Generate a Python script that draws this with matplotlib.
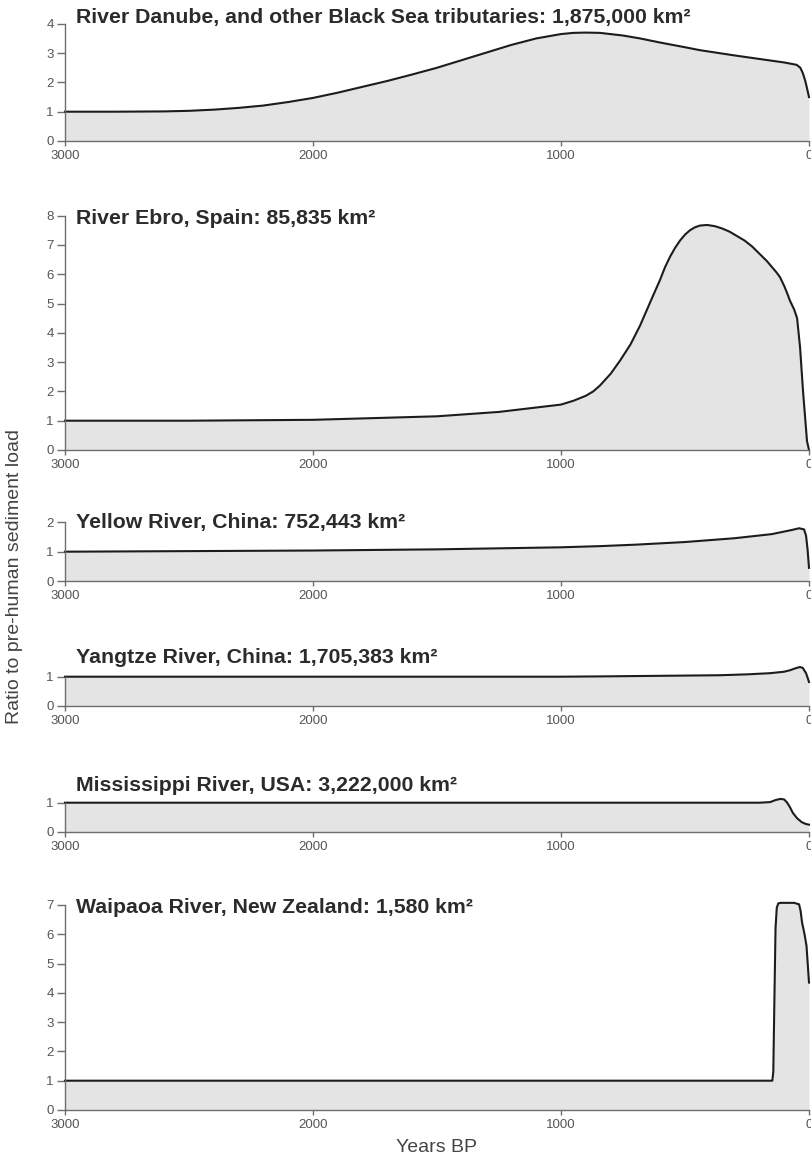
import numpy as np
import matplotlib.pyplot as plt

# sediment load relative to pre-human levels, read as (years BP, ratio)
danube_yr = [3000, 2800, 2600, 2500, 2400, 2300, 2200, 2100, 2000, 1900, 1800, 1700, 1600, 1500, 1400, 1300,
             1200, 1100, 1000, 950, 900, 843, 750, 681, 600, 500, 440, 300, 200, 100, 50, 35, 25, 15, 8, 0]
danube_val = [1.0, 1.0, 1.01, 1.03, 1.07, 1.13, 1.21, 1.33, 1.47, 1.65, 1.85, 2.05, 2.27, 2.5, 2.76, 3.02,
              3.28, 3.5, 3.65, 3.69, 3.7, 3.69, 3.6, 3.5, 3.36, 3.2, 3.1, 2.92, 2.8, 2.68, 2.6, 2.5, 2.32, 2.05, 1.8, 1.5]

ebro_yr = [3000, 2500, 2000, 1500, 1250, 1000, 950, 900, 870, 843, 800, 762, 720, 681, 640, 601, 580, 560, 540,
           520, 500, 480, 460, 440, 411, 380, 350, 320, 290, 260, 230, 200, 170, 150, 130, 117, 100, 88, 77,
           60, 48, 36, 24, 8, 0]
ebro_val = [1.0, 1.0, 1.03, 1.15, 1.3, 1.55, 1.68, 1.85, 2.0, 2.2, 2.6, 3.05, 3.6, 4.25, 5.05, 5.8, 6.25, 6.6, 6.9,
            7.15, 7.35, 7.5, 7.6, 7.66, 7.68, 7.64, 7.56, 7.45, 7.3, 7.15, 6.95, 6.7, 6.45, 6.25, 6.05, 5.9, 5.6,
            5.35, 5.1, 4.8, 4.5, 3.5, 2.0, 0.3, 0.0]

yellow_yr = [3000, 2000, 1500, 1000, 843, 700, 500, 300, 150, 70, 40, 20, 12, 6, 0]
yellow_val = [1.0, 1.04, 1.08, 1.15, 1.19, 1.24, 1.33, 1.46, 1.6, 1.74, 1.8, 1.76, 1.55, 1.1, 0.45]

yangtze_yr = [3000, 2000, 1000, 843, 600, 359, 250, 157, 100, 77, 50, 36, 25, 12, 5, 0]
yangtze_val = [1.0, 1.0, 1.0, 1.01, 1.03, 1.05, 1.08, 1.12, 1.17, 1.22, 1.3, 1.33, 1.3, 1.12, 0.95, 0.82]

mississippi_yr = [3000, 1000, 200, 157, 135, 115, 100, 88, 77, 65, 48, 30, 15, 0]
mississippi_val = [1.0, 1.0, 1.0, 1.02, 1.09, 1.13, 1.11, 1.0, 0.85, 0.65, 0.47, 0.34, 0.28, 0.25]

waipaoa_yr = [3000, 1000, 148, 144, 140, 135, 130, 124, 115, 60, 40, 34, 28, 18, 10, 0]
waipaoa_val = [1.0, 1.0, 1.0, 1.3, 3.5, 6.2, 6.9, 7.05, 7.07, 7.07, 7.02, 6.8, 6.4, 6.0, 5.6, 4.35]

titles = [
    'River Danube, and other Black Sea tributaries: 1,875,000 km²',
    'River Ebro, Spain: 85,835 km²',
    'Yellow River, China: 752,443 km²',
    'Yangtze River, China: 1,705,383 km²',
    'Mississippi River, USA: 3,222,000 km²',
    'Waipaoa River, New Zealand: 1,580 km²',
]
series = [
    (danube_yr, danube_val),
    (ebro_yr, ebro_val),
    (yellow_yr, yellow_val),
    (yangtze_yr, yangtze_val),
    (mississippi_yr, mississippi_val),
    (waipaoa_yr, waipaoa_val),
]
y_top = [4, 8, 2, 1, 1, 7]
x_ticks = [3000, 2000, 1000, 0]

# layout in pixels (figure is 812 x 1157 at 100 dpi)
W, H = 812, 1157
left_px, right_px = 65, 809
base_px = [141, 450, 581, 706, 832, 1110]
unit_px = 29.3
title_y = [4.2, 7.9, 2.0, 1.65, 1.6, 6.9]

plt.rcParams['font.family'] = ['Liberation Sans', 'DejaVu Sans']

fig = plt.figure(figsize=(W / 100, H / 100), dpi=100)
axis_col = '#6e6e6e'
label_col = '#555555'

for i, (yrs, vals) in enumerate(series):
    h = y_top[i] * unit_px
    ax = fig.add_axes([left_px / W, (H - base_px[i]) / H, (right_px - left_px) / W, h / H])
    ax.fill_between(yrs, 0, vals, color='#e4e4e4', lw=0, clip_on=False)
    ax.plot(yrs, vals, color='#1c1c1c', lw=1.5, clip_on=False, solid_joinstyle='round')
    ax.set_xlim(3000, 0)
    ax.set_ylim(0, y_top[i])
    ax.set_xticks(x_ticks)
    ax.set_yticks(range(0, y_top[i] + 1))
    for s in ['top', 'right']:
        ax.spines[s].set_visible(False)
    for s in ['left', 'bottom']:
        ax.spines[s].set_color(axis_col)
        ax.spines[s].set_linewidth(1.0)
        ax.spines[s].set_zorder(3)
    ax.tick_params(axis='y', direction='out', length=5.5, width=1.0, color=axis_col,
                   labelcolor=label_col, labelsize=9.5, pad=2.5)
    ax.tick_params(axis='x', direction='out', length=3.6, width=1.0, color=axis_col,
                   labelcolor=label_col, labelsize=9.5, pad=3)
    ax.patch.set_alpha(0)
    ax.text(2955, title_y[i], titles[i], fontsize=15.3, fontweight='bold',
            color='#2b2b2b', va='center', ha='left')

fig.text(437 / W, 1 - 1147 / H, 'Years BP', fontsize=14, color='#444444',
         ha='center', va='center')
fig.text(15 / W, 1 - 577 / H, 'Ratio to pre-human sediment load', fontsize=14,
         color='#444444', rotation=90, ha='center', va='center')

fig.savefig('out.png', dpi=100)
